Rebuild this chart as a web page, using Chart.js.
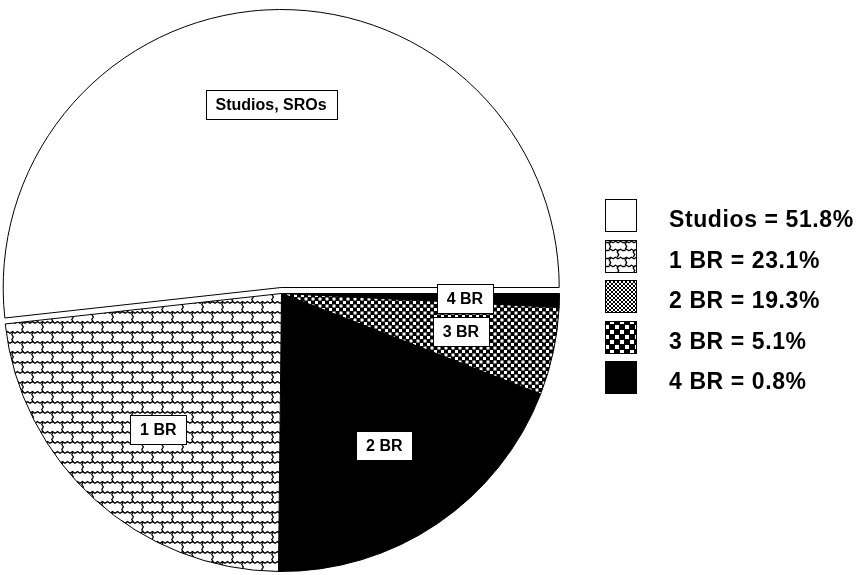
<!DOCTYPE html>
<html><head><meta charset="utf-8">
<script src="https://cdn.jsdelivr.net/npm/chart.js@4.4.1/dist/chart.umd.min.js"></script>
<style>html,body{margin:0;padding:0;background:#fff;}#wrap{width:856px;height:575px;position:relative;}</style>
</head><body><div id="wrap"><canvas id="c" width="856" height="575"></canvas></div>
<script>
// ---- data (legend order) ----
const categories = ['Studios', '1 BR', '2 BR', '3 BR', '4 BR'];
const sliceLabels = ['Studios, SROs', '1 BR', '2 BR', '3 BR', '4 BR'];
const shares = [51.8, 23.1, 19.3, 5.1, 0.8];

const canvas = document.getElementById('c');
const mainCtx = canvas.getContext('2d');

function tile(w, h, draw) {
  const t = document.createElement('canvas');
  t.width = w; t.height = h;
  const g = t.getContext('2d');
  draw(g, w, h);
  return mainCtx.createPattern(t, 'repeat');
}
function zig(g, x1, y1, x2, y2, amp, step) {
  const dx = x2 - x1, dy = y2 - y1, len = Math.hypot(dx, dy);
  const ux = dx / len, uy = dy / len, px = -uy, py = ux;
  g.beginPath();
  let k = 0;
  for (let d = 0; d <= len + 0.01; d += step, k++) {
    const o = (k % 2 ? amp : -amp * 0.3);
    g.lineTo(x1 + ux * d + px * o, y1 + uy * d + py * o);
  }
  g.stroke();
}
function brick(s) {
  return tile(20 * s, 20 * s, (g, w, h) => {
    g.fillStyle = '#fff'; g.fillRect(0, 0, w, h);
    g.strokeStyle = '#000'; g.lineWidth = 1.3;
    const a = 1.2, st = 2.5;
    zig(g, -2.5, 2 * s, w + 2.5, 2 * s, a, st);
    zig(g, -2.5, 12 * s, w + 2.5, 12 * s, a, st);
    zig(g, 3 * s, 2 * s, 3 * s, 12 * s, a, st);
    zig(g, 13 * s, 12 * s, 13 * s, 22 * s, a, st);
    zig(g, 13 * s, -8 * s, 13 * s, 2 * s, a, st);
  });
}
function checker(p, sq) {
  return tile(p, p, (g, w, h) => {
    g.fillStyle = '#000'; g.fillRect(0, 0, w, h);
    g.fillStyle = '#fff';
    g.fillRect(0, 0, sq, sq);
    g.fillRect(p / 2, p / 2, sq, sq);
  });
}
const hatch = tile(4, 4, (g) => {
  g.fillStyle = '#fff'; g.fillRect(0, 0, 4, 4);
  g.fillStyle = '#000';
  for (let i = 0; i < 4; i++) { g.fillRect(i, i, 1, 1); g.fillRect(3 - i, i, 1, 1); }
});

// slice fills / legend swatch fills (legend order)
const sliceFills = ['#ffffff', brick(1), '#000000', checker(7, 3), '#000000'];
const legendFills = ['#ffffff', brick(0.8), hatch, checker(10, 4), '#000000'];
const explodeDist = [6, 0, 0, 0, 0];

// pie is drawn clockwise from 3 o'clock: 4 BR, 3 BR, 2 BR, 1 BR, Studios
const order = [4, 3, 2, 1, 0];

const explodePlugin = {
  id: 'explode',
  beforeDatasetDraw(chart, args) {
    const ctx = chart.ctx;
    args.meta.data.forEach((arc, j) => {
      const d = explodeDist[order[j]];
      ctx.save();
      if (d) {
        const mid = (arc.startAngle + arc.endAngle) / 2;
        ctx.translate(Math.cos(mid) * d, Math.sin(mid) * d);
      }
      arc.draw(ctx, chart.chartArea);
      ctx.restore();
    });
    return false;
  }
};

const labelPlugin = {
  id: 'sliceLabels',
  afterDatasetsDraw(chart) {
    const ctx = chart.ctx;
    const meta = chart.getDatasetMeta(0);
    ctx.save();
    ctx.font = 'bold 16px "Liberation Sans", Arial, sans-serif';
    ctx.textAlign = 'center';
    ctx.textBaseline = 'middle';
    meta.data.forEach((arc, j) => {
      const i = order[j];
      const mid = (arc.startAngle + arc.endAngle) / 2;
      const dist = arc.outerRadius * 0.66 + explodeDist[i];
      const x = arc.x + Math.cos(mid) * dist;
      const y = arc.y + Math.sin(mid) * dist;
      const txt = sliceLabels[i];
      const w = Math.round(ctx.measureText(txt).width + 20), h = 29;
      const bx = Math.round(x - w / 2) + 0.5, by = Math.round(y - h / 2) + 0.5;
      ctx.fillStyle = '#fff';
      ctx.fillRect(bx, by, w, h);
      ctx.strokeStyle = '#000'; ctx.lineWidth = 1;
      ctx.strokeRect(bx, by, w, h);
      ctx.fillStyle = '#000';
      ctx.fillText(txt, x, y + 1);
    });
    ctx.restore();
  }
};

const legendPlugin = {
  id: 'sideLegend',
  afterDraw(chart) {
    const ctx = chart.ctx;
    const x0 = 605, y0 = 199, pitch = 40.5, bw = 32, bh = 33, tx = 669;
    ctx.save();
    ctx.font = 'bold 23px "Liberation Sans", Arial, sans-serif';
    ctx.letterSpacing = '0.6px';
    ctx.textAlign = 'left';
    ctx.textBaseline = 'alphabetic';
    categories.forEach((name, i) => {
      const y = Math.round(y0 + i * pitch);
      ctx.fillStyle = legendFills[i];
      ctx.fillRect(x0, y, bw, bh);
      ctx.strokeStyle = '#000'; ctx.lineWidth = 1;
      ctx.strokeRect(x0 + 0.5, y + 0.5, bw - 1, bh - 1);
      ctx.fillStyle = '#000';
      ctx.fillText(name + ' = ' + shares[i].toFixed(1) + '%', tx, y + bh / 2 + 3.5 + 8.2);
    });
    ctx.restore();
  }
};

new Chart(canvas, {
  type: 'pie',
  data: {
    labels: order.map(i => categories[i]),
    datasets: [{
      data: order.map(i => shares[i]),
      backgroundColor: order.map(i => sliceFills[i]),
      borderColor: '#000',
      borderWidth: 1
    }]
  },
  options: {
    responsive: false,
    animation: false,
    events: [],
    rotation: 90,
    layout: { padding: { left: 3, top: 12, right: 296, bottom: 0 } },
    plugins: { legend: { display: false }, tooltip: { enabled: false }, title: { display: false } }
  },
  plugins: [explodePlugin, labelPlugin, legendPlugin]
});
</script>
</body></html>
